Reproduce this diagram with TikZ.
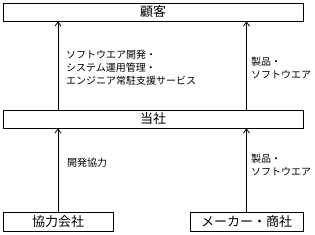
\documentclass[tikz,border=0pt]{standalone}
\usepackage{fontspec}
\setmainfont{Noto Sans CJK JP}
\usetikzlibrary{arrows.meta,positioning}

\begin{document}
\begin{tikzpicture}[
  x=1pt, y=-1pt,
  party/.style={draw, line width=0.8pt, minimum height=18pt, inner sep=0pt, font=\fontsize{13}{15}\selectfont},
  flow/.style={font=\fontsize{10}{13}\selectfont, align=left, anchor=west, inner sep=0pt},
  >={Straight Barb[length=4pt,width=6pt]}
]
\useasboundingbox (0,0) rectangle (315,234);
\node[party, minimum width=300pt] (client) at (153,12) {顧客};
\node[party, minimum width=300pt] (us) at (153,119) {当社};
\node[party, minimum width=110pt, minimum height=19pt] (partner) at (58,221.5) {協力会社};
\node[party, minimum width=113pt, minimum height=19pt] (maker) at (246.5,221.5) {メーカー・商社};

\node[flow] (svc) at (66,68) {ソフトウエア開発・\\システム運用管理・\\エンジニア常駐支援サービス};
\node[flow] (prod1) at (251,68) {製品・\\ソフトウエア};
\node[flow] (dev) at (67,163) {開発協力};
\node[flow] (prod2) at (251,164.5) {製品・\\ソフトウエア};

\draw[->, line width=0.8pt] (us.north -| partner.north) -- (client.south -| partner.north);
\draw[->, line width=0.8pt] (us.north -| maker.north) -- (client.south -| maker.north);
\draw[->, line width=0.8pt] (partner.north) -- (us.south -| partner.north);
\draw[->, line width=0.8pt] (maker.north) -- (us.south -| maker.north);
\end{tikzpicture}
\end{document}
